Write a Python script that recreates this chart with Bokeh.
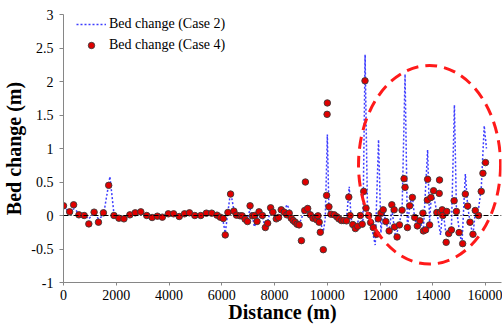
from bokeh.plotting import figure
from bokeh.models import (Range1d, FixedTicker, CustomJSTickFormatter, Span,
                          Legend, LegendItem)
from bokeh.embed import file_html
from bokeh.resources import INLINE

# ---------------- data ----------------
case2_x = [0, 200, 400, 600, 800, 960, 1160, 1325, 1513, 1760, 1913, 2100, 2290, 2515,
           2718, 2930, 3155, 3358, 3558, 3746, 3972, 4172, 4386, 4586, 4774, 4977, 5203,
           5414, 5617, 5817, 5942, 6055, 6130, 6231, 6332, 6457, 6558, 6694, 6883, 6973,
           7071, 7161, 7237, 7335, 7410, 7537, 7650, 7737, 7850, 7937, 8064, 8151, 8252,
           8365, 8465, 8554, 8629, 8704, 8780, 8855, 8930, 9017, 9142, 9255, 9356, 9457,
           9556, 9646, 9733, 9846, 9920, 10000, 10060, 10135, 10260, 10362, 10437, 10535,
           10625, 10725, 10830, 10900, 10964, 11062, 11150, 11250, 11350, 11430, 11520,
           11640, 11815, 11940, 12030, 12117, 12217, 12342, 12443, 12590, 12733, 12831,
           12945, 13034, 13121, 13222, 13310, 13411, 13510, 13640, 13800, 13874, 13925,
           14025, 14150, 14290, 14375, 14503, 14601, 14702, 14815, 14891, 14992, 15100,
           15230, 15316, 15406, 15519, 15606, 15730, 15832, 15945, 16030]
case2_y = [0.14, 0.06, 0.10, 0.03, 0.00, -0.05, 0.03, -0.05, 0.00, 0.58, 0.02, -0.02,
           -0.03, 0.01, 0.03, 0.05, 0.00, -0.06, 0.00, -0.02, 0.02, 0.03, -0.01, 0.02,
           0.03, 0.00, 0.00, 0.08, 0.03, 0.00, -0.04, -0.10, -0.26, 0.05, 0.36, 0.08,
           0.00, 0.00, -0.05, -0.05, 0.10, -0.02, -0.17, -0.05, 0.04, 0.00, -0.20, -0.10,
           0.10, 0.06, -0.02, 0.02, 0.12, 0.05, 0.16, 0.10, 0.00, -0.05, -0.08, -0.10,
           -0.12, -0.05, 0.10, 0.15, 0.05, 0.00, -0.05, 0.00, -0.10, -0.24, -0.05, 1.21,
           0.05, 0.00, 0.02, -0.02, -0.05, -0.07, -0.06, -0.05, 0.43, -0.05, -0.12,
           -0.18, -0.10, 0.00, -0.10, 2.40, 0.10, -0.10, -0.44, 1.13, -0.26, 0.10, -0.10,
           -0.25, 0.10, -0.34, -0.10, 0.05, 2.11, -0.20, 0.15, 0.30, -0.05, -0.15, -0.10,
           -0.21, 0.98, -0.10, 0.20, 0.30, 0.05, -0.29, 0.10, -0.30, -0.26, -0.20, 1.65,
           0.10, -0.20, -0.43, 0.62, 0.15, -0.10, -0.29, 0.05, 0.10, 0.40, 1.34, 1.00]

case4_x = [0, 233, 384, 584, 784, 960, 1160, 1325, 1513, 1713, 1913, 2100, 2290, 2515,
           2718, 2930, 3155, 3358, 3558, 3746, 3972, 4172, 4386, 4586, 4774, 4977, 5203,
           5414, 5617, 5817, 5942, 6055, 6130, 6231, 6332, 6457, 6558, 6694, 6770, 6883,
           6973, 7071, 7161, 7237, 7335, 7410, 7537, 7650, 7737, 7850, 7937, 8064, 8151,
           8252, 8365, 8465, 8554, 8629, 8704, 8780, 8855, 8930, 9017, 9142, 9168, 9255,
           9356, 9457, 9556, 9600, 9646, 9690, 9733, 9846, 9972, 9990, 10000, 10060,
           10135, 10260, 10362, 10437, 10535, 10625, 10725, 10813, 10862, 10964, 11062,
           11150, 11250, 11320, 11378, 11427, 11465, 11566, 11640, 11740, 11866, 11929,
           12030, 12117, 12217, 12342, 12443, 12531, 12545, 12643, 12733, 12831, 12907,
           12945, 13034, 13121, 13222, 13310, 13411, 13510, 13622, 13640, 13723, 13790,
           13800, 13874, 13925, 14025, 14150, 14240, 14251, 14276, 14352, 14375, 14503,
           14525, 14601, 14702, 14804, 14891, 14992, 15128, 15229, 15316, 15406, 15519,
           15606, 15730, 15832, 15896, 15994]
case4_y = [0.145, 0.055, 0.16, 0.01, 0.00, -0.125, 0.05, -0.10, 0.04, 0.45, 0.00, -0.04,
           -0.05, 0.01, 0.04, 0.055, 0.00, -0.03, -0.01, -0.025, 0.025, 0.025, -0.015,
           0.025, 0.04, 0.00, 0.00, 0.035, 0.035, 0.005, -0.025, -0.045, -0.29, 0.045,
           0.32, 0.065, 0.005, -0.005, -0.005, -0.055, -0.09, 0.145, -0.005, 0.00, -0.09,
           0.055, 0.00, -0.18, -0.115, 0.115, 0.05, -0.05, -0.03, 0.085, 0.05, 0.01,
           0.035, -0.04, -0.075, -0.10, -0.13, -0.14, -0.375, 0.075, 0.50, 0.105, 0.01,
           -0.04, -0.03, -0.065, -0.005, -0.10, -0.25, -0.51, 0.30, 1.51, 1.68, 0.13, 0.02,
           0.01, -0.02, -0.05, -0.075, -0.075, -0.08, 0.275, 0.00, -0.135, -0.195, -0.16,
           0.00, -0.13, 0.36, 2.01, 0.11, 0.00, -0.105, -0.18, -0.28, -0.05, 0.035, 0.085,
           -0.09, -0.23, 0.16, 0.085, -0.17, -0.32, -0.14, 0.08, 0.55, 0.42, -0.18, 0.145,
           0.27, -0.03, -0.155, -0.08, 0.035, -0.23, -0.215, 0.23, 0.54, -0.14, 0.27, 0.37,
           0.045, 0.33, 0.53, 0.045, 0.085, 0.00, -0.40, 0.06, -0.27, -0.215, 0.22, 0.06,
           -0.255, -0.42, 0.32, 0.14, -0.10, -0.28, 0.075, 0.00, 0.36, 0.63, 0.79]

x_ticks = [0, 2000, 4000, 6000, 8000, 10000, 12000, 14000, 16000]
y_ticks = [-1, -0.5, 0, 0.5, 1, 1.5, 2, 2.5, 3]

series_labels = ["Bed change (Case 2)", "Bed change (Case 4)"]
x_title = "Distance (m)"
y_title = "Bed change (m)"

# ---------------- figure ----------------
SERIF = "Liberation Serif, Times New Roman, serif"

p = figure(width=502, height=328, output_backend="svg", toolbar_location=None,
           x_range=Range1d(0, 16600), y_range=Range1d(-1, 3),
           min_border_left=60, min_border_right=1, min_border_top=14,
           min_border_bottom=46)
p.outline_line_color = None
p.xgrid.visible = False
p.ygrid.visible = False
p.background_fill_color = "white"
p.border_fill_color = "white"

fmt = CustomJSTickFormatter(code="return tick.toString();")
for ax, ticks in ((p.xaxis[0], x_ticks), (p.yaxis[0], y_ticks)):
    ax.ticker = FixedTicker(ticks=ticks)
    ax.formatter = fmt
    ax.axis_line_color = "#868686"
    ax.major_tick_line_color = "#868686"
    ax.minor_tick_line_color = None
    ax.major_tick_in = 0
    ax.major_label_text_font = SERIF
    ax.major_label_text_font_size = "14px"
    ax.major_label_text_color = "black"
    ax.axis_label_text_font = SERIF
    ax.axis_label_text_font_size = "20px"
    ax.axis_label_text_font_style = "bold"
    ax.axis_label_text_color = "black"
p.xaxis.major_tick_out = 3
p.xaxis.major_label_standoff = 4
p.xaxis.axis_label = x_title
p.xaxis.axis_label_standoff = -2
p.yaxis.major_tick_out = 4
p.yaxis.major_label_standoff = 6
p.yaxis.axis_label = y_title
p.yaxis.axis_label_standoff = 3

# zero reference line
p.add_layout(Span(location=0, dimension="width", line_color="black",
                  line_width=1, line_dash="5 2 1 2"))

line2 = p.line(case2_x, case2_y, line_color="#3d3dff", line_width=1.5, line_dash="2 2")
pts4 = p.scatter(case4_x, case4_y, size=6.5, fill_color="#e00000",
                 line_color="#3a3a3a", line_width=0.9)

# highlight ellipse
p.ellipse(x=13873, y=0.757, width=5383, height=2.963, fill_color=None,
          line_color="#ff1a1a", line_width=3, line_dash="12 7")

legend = Legend(items=[LegendItem(label=series_labels[0], renderers=[line2]),
                       LegendItem(label=series_labels[1], renderers=[pts4])],
                location=(13, 229), orientation="vertical")
legend.border_line_color = None
legend.background_fill_alpha = 0
legend.padding = 0
legend.margin = 0
legend.spacing = 5
legend.glyph_width = 30
legend.glyph_height = 16
legend.label_height = 16
legend.label_standoff = 3
legend.label_text_font = SERIF
legend.label_text_font_size = "14px"
legend.label_text_line_height = 1.0
legend.label_text_color = "black"
p.add_layout(legend)

open("out.html", "w").write(file_html(p, INLINE))
